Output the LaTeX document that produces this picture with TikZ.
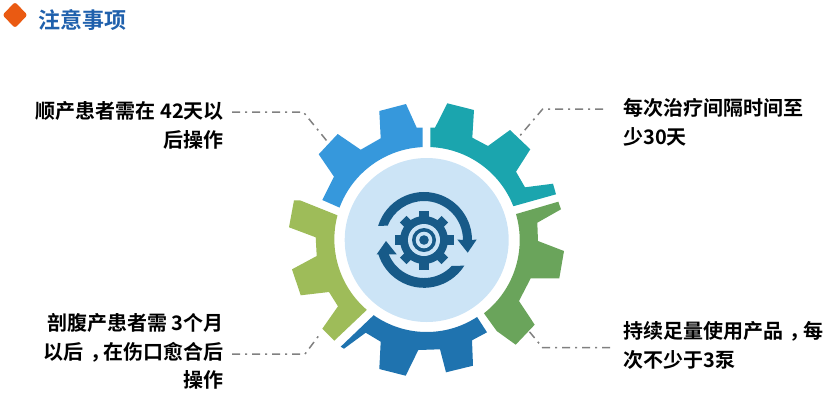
\documentclass[tikz,border=0pt]{standalone}
\usepackage{fontspec}
\usetikzlibrary{calc}
\setmainfont{Noto Sans CJK SC}[BoldFont={* Bold}]
\newcommand{\midcomma}{\hspace{.32em}，\hspace{-.32em}}
\definecolor{gblue}{HTML}{3698DC}
\definecolor{gteal}{HTML}{1BA5AE}
\definecolor{ggreen}{HTML}{6AA45B}
\definecolor{glime}{HTML}{9EBC59}
\definecolor{gdeep}{HTML}{1F73AF}
\definecolor{discfill}{HTML}{CCE4F6}
\definecolor{iconblue}{HTML}{175A88}
\definecolor{titleblue}{HTML}{1F60AC}
\definecolor{markorange}{HTML}{EA5A12}
\definecolor{leadgray}{HTML}{808080}
\tikzset{
  lead/.style={draw=leadgray,line width=1.5pt,dash pattern=on 8bp off 5bp on 2bp off 5bp},
  lab/.style={font=\fontsize{20bp}{28.8bp}\selectfont\bfseries,inner sep=0pt,text=black},
}
\begin{document}
\begin{tikzpicture}[x=1bp,y=-1bp]
\useasboundingbox (0,0) rectangle (834,404);
\coordinate (c) at (426.7,240);
\coordinate (i) at (424,240);
% header
\fill[markorange,rounded corners=2.5pt] (15,2) -- (27.5,15) -- (15,28) -- (2.5,15) -- cycle;
\node[anchor=west,inner sep=0pt,text=titleblue,font=\fontsize{22bp}{24bp}\selectfont\bfseries] (title) at (38,20) {注意事项};
% gear segments
\fill[gblue] ($(c)+(200.4:93)$) arc[start angle=200.4,end angle=267.5,radius=93]
  -- (422.7,127.7) -- (416.7,127.7) -- (406,104) -- (379.3,111) -- (380.7,138.3) -- (360.7,149.7)
  -- (337.7,134) -- (318.7,154.3) -- (334,176.7) -- (322.3,200) -- cycle;
\fill[gteal] ($(c)+(272.2:93)$) arc[start angle=272.2,end angle=338.7,radius=93]
  -- (556,194.3) -- (553,183.7) -- (525,187.3) -- (516,171.7) -- (530.3,149.3) -- (510,130)
  -- (488,146) -- (472.3,137.7) -- (474,110) -- (447.3,103.3) -- (435,127.7) -- (430.3,127.7) -- cycle;
\fill[ggreen] ($(c)+(-16.2:93)$) arc[start angle=-16.2,end angle=52,radius=93]
  -- (496.7,331) -- (515.7,344.7) -- (534.7,324.7) -- (519,301) -- (530.7,278.3) -- (559.3,278.3)
  -- (564,251) -- (538,241) -- (537.3,222.7) -- (561,209.3) -- (558.3,201.7) -- cycle;
\fill[gdeep] ($(c)+(125.2:92)$) arc[start angle=125.2,end angle=56.8,radius=92]
  -- (487,332.3) -- (472,340.3) -- (473,365.7) -- (446,372.3) -- (440,349.3) -- (418.3,350)
  -- (405.7,375.7) -- (379.3,369) -- (380.7,341.7) -- (365.7,332.7) -- (344,348.7) -- (340.7,346.7) -- cycle;
\fill[glime] ($(c)+(130.6:92)$) arc[start angle=130.6,end angle=194.9,radius=93]
  -- (300,200.3) -- (294,200.3) -- (289,227.3) -- (315.7,237.3) -- (316.7,256) -- (292,269.3)
  -- (300.7,295.3) -- (329,292) -- (338,306.3) -- (322.3,328.7) -- (334.3,340.7) -- cycle;
% disc
\fill[discfill] (c) circle[radius=82];
% icon: cog
\foreach \a in {0,45,...,315}{
  \fill[iconblue,rotate around={\a:(i)}] ($(i)+(-4.6,-29.5)$) rectangle ($(i)+(4.6,-20)$);
}
\fill[iconblue] (i) circle[radius=24];
\fill[discfill] (i) circle[radius=16];
\fill[iconblue] (i) circle[radius=12];
\fill[discfill] (i) circle[radius=8.3];
\fill[iconblue] (i) circle[radius=4.8];
% icon: arrows
\fill[iconblue] ($(i)+(197.1:48)$) arc[start angle=197.1,end angle=360,radius=48]
  -- (476.7,239.5) -- (467.7,252.7) -- (457.3,239.5) -- ($(i)+(0:39)$)
  arc[start angle=0,end angle=-158.4,radius=39] -- cycle;
\fill[iconblue] ($(i)+(32.5:47.8)$) arc[start angle=32.5,end angle=162.5,radius=47.8]
  -- (376.7,254.3) -- (386,241) -- (396.7,254.3) -- ($(i)+(158:38)$)
  arc[start angle=158,end angle=42.9,radius=38] -- cycle;
% labels
\node[lab,anchor=north east,align=right] (tl) at (224,101) {顺产患者需在 42天以\\后操作};
\node[lab,anchor=north west,align=left] (tr) at (623,98) {每次治疗间隔时间至\\少30天};
\node[lab,anchor=north west,align=left] (br) at (623,321) {持续足量使用产品\midcomma 每\\次不少于3泵};
\node[lab,anchor=north east,align=right] (bl) at (224,313) {剖腹产患者需 3个月\\以后\midcomma 在伤口愈合后\\操作};
% connectors
\coordinate (tla) at (232,112); \coordinate (tlb) at (303.3,112); \coordinate (tlc) at (328.3,142.7);
\coordinate (tra) at (603,109); \coordinate (trb) at (542.7,109); \coordinate (trc) at (518,138);
\coordinate (bla) at (232,354); \coordinate (blb) at (305,354); \coordinate (blc) at (320,334);
\coordinate (bra) at (610,347.7); \coordinate (brb) at (542.7,347.7); \coordinate (brc) at (528,330);
\draw[lead] (tla) -- (tlb) -- (tlc);
\draw[lead] (tra) -- (trb) -- (trc);
\draw[lead] (bla) -- (blb) -- (blc);
\draw[lead] (bra) -- (brb) -- (brc);
\end{tikzpicture}
\end{document}
